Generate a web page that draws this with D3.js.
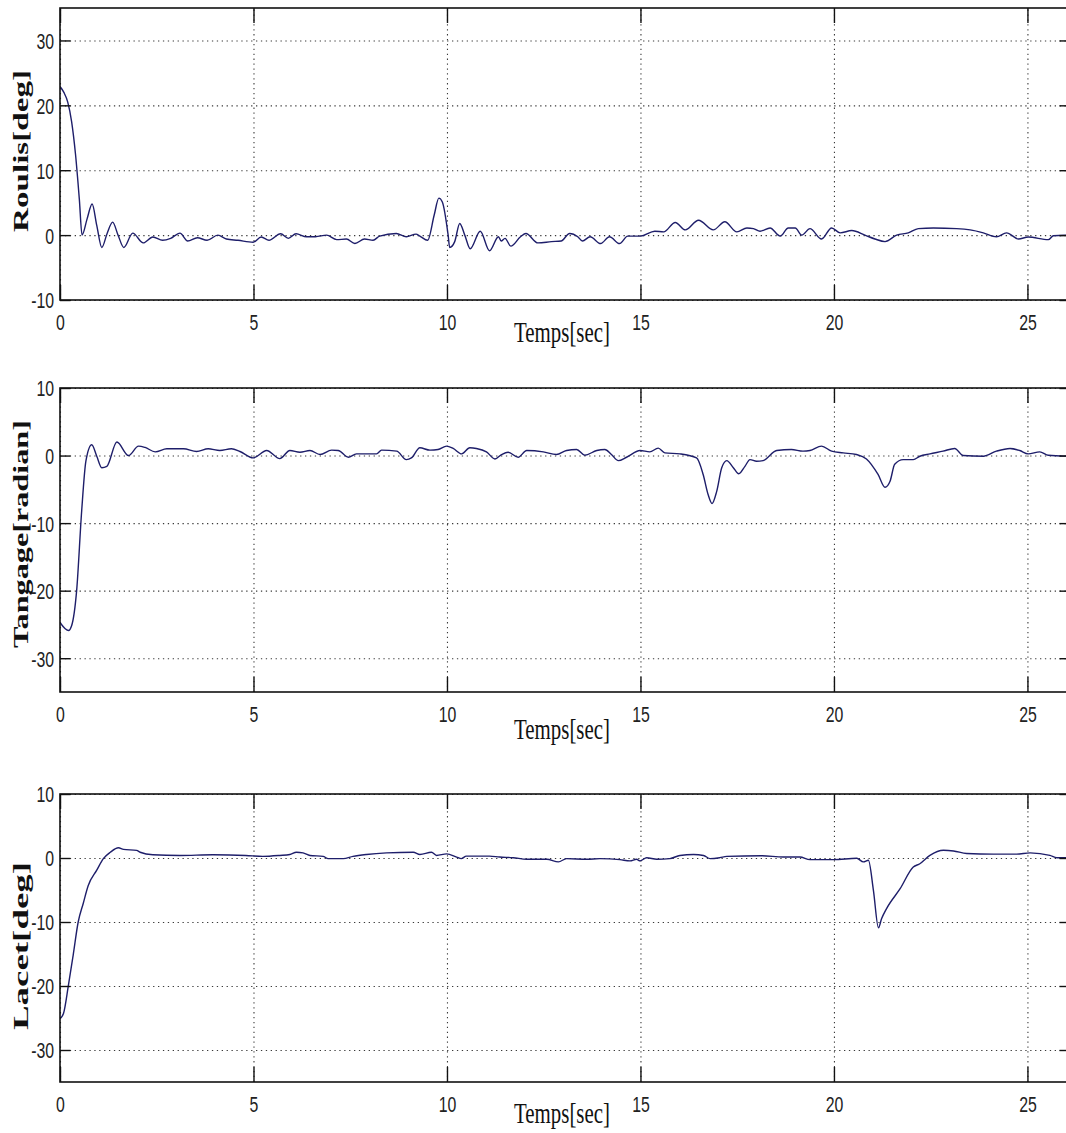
<!DOCTYPE html>
<html>
<head>
<meta charset="utf-8">
<script src="https://cdn.jsdelivr.net/npm/d3@7/dist/d3.min.js"></script>
<style>
  html, body { margin: 0; padding: 0; background: #fff; }
  svg { display: block; }
</style>
</head>
<body>
<svg id="fig" width="1066" height="1133"></svg>
<script>
// ---- Time axis ----
const xTicks = [0, 5, 10, 15, 20, 25];
const xMax = 26.1;

// ---- Roulis (roll) response, degrees ----
const rollTime = [0, 0.1, 0.2, 0.3, 0.4, 0.5, 0.57, 0.7, 0.83, 0.95, 1.08, 1.22, 1.36, 1.5, 1.65, 1.88, 2.15, 2.4, 2.65, 2.86,
  3.1, 3.3, 3.55, 3.8, 4.08, 4.3, 4.6, 4.99, 5.2, 5.4, 5.7, 5.9, 6.1, 6.37, 6.6, 6.89, 7.15, 7.4, 7.62, 7.87,
  8.09, 8.26, 8.69, 8.95, 9.2, 9.3, 9.5, 9.67, 9.79, 9.88, 10.03, 10.07, 10.2, 10.33, 10.46, 10.6, 10.86, 11.1, 11.33, 11.4,
  11.5, 11.65, 11.9, 12.04, 12.35, 12.7, 12.95, 13.17, 13.38, 13.5, 13.7, 13.97, 14.2, 14.46, 14.67, 15.0, 15.37, 15.6, 15.9, 16.16,
  16.5, 16.88, 17.18, 17.49, 17.75, 17.92, 18.09, 18.35, 18.61, 18.82, 19.0, 19.17, 19.38, 19.68, 19.94, 20.16, 20.46, 20.8, 21.06, 21.32,
  21.62, 21.92, 22.18, 22.57, 23.17, 23.52, 23.86, 24.2, 24.46, 24.77, 25.02, 25.54, 25.67, 26.1];
const rollValue = [22.9, 22.0, 20.5, 17.5, 12.5, 5.5, 0.0, 2.5, 4.8, 1.5, -1.9, 0.3, 2.0, 0.0, -1.9, 0.3, -1.2, -0.3, -0.8, -0.5,
  0.3, -0.9, -0.4, -0.8, 0.0, -0.6, -0.8, -1.1, -0.3, -0.8, 0.2, -0.5, 0.2, -0.25, -0.25, 0.0, -0.7, -0.6, -1.3, -0.6,
  -0.8, -0.15, 0.25, -0.25, 0.15, -0.15, -0.8, 3.1, 5.7, 5.1, 0.0, -1.9, -1.0, 1.8, 0.0, -2.1, 0.6, -2.4, -0.25, -0.9,
  -0.5, -1.7, -0.25, 0.25, -1.2, -1.0, -0.9, 0.25, -0.25, -0.9, -0.25, -1.3, -0.25, -1.3, -0.15, -0.15, 0.6, 0.5, 1.95, 0.8,
  2.3, 0.8, 2.05, 0.5, 1.1, 1.0, 0.6, 1.1, -0.15, 1.1, 1.1, 0.0, 1.0, -0.6, 1.1, 0.35, 0.7, 0.0, -0.6, -1.0,
  0.0, 0.35, 1.0, 1.1, 1.0, 0.8, 0.35, -0.25, 0.35, -0.6, -0.3, -0.7, -0.1, 0.0];
const rollTicks = [-10, 0, 10, 20, 30];

// ---- Tangage (pitch) response ----
const pitchTime = [0, 0.22, 0.3, 0.43, 0.56, 0.67, 0.82, 0.95, 1.08, 1.21, 1.47, 1.77, 2.03, 2.2, 2.46, 2.76, 3.19, 3.53, 3.83, 4.13,
  4.43, 4.65, 4.99, 5.34, 5.68, 5.94, 6.2, 6.46, 6.72, 7.02, 7.19, 7.45, 7.66, 8.18, 8.31, 8.7, 8.95, 9.08, 9.3, 9.56,
  9.77, 9.99, 10.16, 10.38, 10.59, 10.76, 11.02, 11.24, 11.41, 11.58, 11.84, 12.06, 12.49, 12.83, 13.09, 13.35, 13.56, 13.87, 14.08, 14.25,
  14.43, 14.64, 14.99, 15.24, 15.46, 15.63, 16.02, 16.45, 16.62, 16.75, 16.85, 16.97, 17.1, 17.23, 17.4, 17.54, 17.7, 17.83, 18.0, 18.17,
  18.52, 18.9, 19.2, 19.38, 19.68, 19.94, 20.24, 20.58, 20.84, 21.14, 21.32, 21.45, 21.57, 21.79, 22.05, 22.22, 22.48, 22.82, 23.12, 23.34,
  23.86, 24.2, 24.55, 24.8, 25.02, 25.32, 25.54, 26.1];
const pitchValue = [-24.7, -25.9, -25.2, -20.0, -8.2, -0.8, 1.6, -0.1, -1.8, -1.6, 2.0, 0.0, 1.4, 1.2, 0.55, 1.0, 1.0, 0.6, 1.0, 0.75,
  1.0, 0.6, -0.35, 0.75, -0.45, 0.75, 0.5, 0.75, 0.15, 0.8, 0.75, -0.25, 0.25, 0.25, 0.8, 0.65, -0.6, -0.35, 1.15, 0.8,
  0.9, 1.4, 1.05, 0.25, 1.15, 1.05, 0.55, -0.5, 0.15, 0.5, -0.25, 0.75, 0.55, 0.15, 0.75, 0.9, 0.05, 0.75, 0.9, 0.15,
  -0.75, -0.25, 0.75, 0.55, 1.1, 0.4, 0.25, -0.35, -2.8, -5.8, -7.1, -5.3, -1.8, -0.75, -1.8, -2.7, -1.6, -0.6, -0.85, -0.75,
  0.75, 0.9, 0.65, 0.75, 1.4, 0.65, 0.4, 0.15, -0.5, -2.8, -4.7, -3.8, -1.3, -0.6, -0.6, -0.1, 0.25, 0.65, 1.05, 0.0,
  -0.1, 0.65, 1.05, 0.75, 0.25, 0.55, 0.05, -0.1];
const pitchTicks = [-30, -20, -10, 0, 10];

// ---- Lacet (yaw) response, degrees ----
const yawTime = [0, 0.09, 0.22, 0.34, 0.47, 0.6, 0.73, 0.95, 1.12, 1.3, 1.51, 1.64, 1.98, 2.07, 2.4, 3.1, 3.95, 4.8, 5.24, 5.68,
  5.94, 6.11, 6.28, 6.46, 6.8, 6.93, 7.32, 7.57, 7.92, 8.44, 9.13, 9.3, 9.6, 9.73, 9.99, 10.25, 10.37, 10.5, 11.1, 11.36,
  11.71, 12.06, 12.58, 12.88, 13.09, 13.61, 13.95, 14.47, 14.73, 14.9, 14.99, 15.16, 15.42, 15.76, 16.02, 16.37, 16.63, 16.8, 17.05, 17.23,
  18.13, 18.69, 19.12, 19.38, 19.99, 20.59, 20.76, 20.89, 21.02, 21.15, 21.23, 21.36, 21.71, 22.05, 22.22, 22.48, 22.83, 23.09, 23.43, 24.12,
  24.72, 25.07, 25.58, 25.76, 26.1];
const yawValue = [-25.1, -24.3, -19.8, -15.2, -10.0, -7.1, -4.3, -1.9, -0.1, 0.9, 1.6, 1.35, 1.2, 0.9, 0.5, 0.4, 0.5, 0.4, 0.25, 0.4,
  0.55, 0.9, 0.8, 0.4, 0.25, -0.1, -0.1, 0.25, 0.55, 0.8, 0.9, 0.55, 0.9, 0.4, 0.65, 0.15, -0.1, 0.3, 0.3, 0.15,
  0.05, -0.2, -0.2, -0.6, -0.1, -0.2, -0.1, -0.25, -0.45, -0.2, -0.45, 0.05, -0.2, -0.1, 0.4, 0.55, 0.4, -0.1, 0.05, 0.25,
  0.35, 0.15, 0.15, -0.25, -0.25, -0.05, -0.6, -0.35, -5.05, -10.9, -9.5, -7.9, -4.8, -1.4, -0.9, 0.4, 1.2, 1.1, 0.7, 0.6,
  0.6, 0.8, 0.4, 0.05, 0.05];
const yawTicks = [-30, -20, -10, 0, 10];

// ---- Figure layout ----
const svg = d3.select("#fig");
svg.append("rect").attr("width", 1066).attr("height", 1133).attr("fill", "#fff");

const SQ = 0.72;            // horizontal squeeze of the glyphs
const TICK_FONT = "'Liberation Sans', Arial, sans-serif";
const LABEL_FONT = "'Liberation Serif', 'Times New Roman', serif";
const LINE_COLOR = "#1e1e6a";

const x = d3.scaleLinear().domain([0, xMax]).range([60, 1070]);

const panels = [
  { id: "roll",  label: "Roulis[deg]",     time: rollTime,  value: rollValue,  domain: [-10, 35], ticks: rollTicks,
    top: 8,   bottom: 300,  labelMid: 151, labelLen: 162, xlabelBase: 342 },
  { id: "pitch", label: "Tangage[radian]", time: pitchTime, value: pitchValue, domain: [-35, 10], ticks: pitchTicks,
    top: 388, bottom: 692,  labelMid: 534, labelLen: 228, xlabelBase: 739 },
  { id: "yaw",   label: "Lacet[deg]",      time: yawTime,   value: yawValue,   domain: [-35, 10], ticks: yawTicks,
    top: 794, bottom: 1082, labelMid: 946, labelLen: 168, xlabelBase: 1123 }
];

panels.forEach(p => {
  const y = d3.scaleLinear().domain(p.domain).range([p.bottom, p.top]);
  const g = svg.append("g").attr("class", "panel-" + p.id);
  const x0 = x.range()[0], x1 = x.range()[1];
  const h = p.bottom - p.top, w = x1 - x0;

  // dotted grid
  const gridX = g.append("g").attr("transform", `translate(0,${p.bottom})`)
    .call(d3.axisBottom(x).tickValues(xTicks).tickSize(-h).tickFormat(""));
  const gridY = g.append("g").attr("transform", `translate(${x0},0)`)
    .call(d3.axisLeft(y).tickValues(p.ticks).tickSize(-w).tickFormat(""));
  [gridX, gridY].forEach(gg => {
    gg.select(".domain").remove();
    gg.selectAll("line").attr("stroke", "#3a3a3a").attr("stroke-width", 1.1)
      .attr("stroke-dasharray", "1.3,3.6");
  });

  // data curve
  const clipId = "clip-" + p.id;
  g.append("clipPath").attr("id", clipId).append("rect")
    .attr("x", x0).attr("y", p.top).attr("width", w).attr("height", h);
  const pts = p.time.map((t, i) => [t, p.value[i]]);
  g.append("path").datum(pts)
    .attr("clip-path", `url(#${clipId})`)
    .attr("fill", "none").attr("stroke", LINE_COLOR).attr("stroke-width", 1.4)
    .attr("stroke-linejoin", "round")
    .attr("d", d3.line().curve(d3.curveMonotoneX).x(d => x(d[0])).y(d => y(d[1])));

  // inward tick marks on all four sides
  const tickStyle = sel => {
    sel.select(".domain").remove();
    sel.selectAll("line").attr("stroke", "#111").attr("stroke-width", 1.4);
  };
  const axB = g.append("g").attr("transform", `translate(0,${p.bottom})`)
    .call(d3.axisBottom(x).tickValues(xTicks).tickSizeInner(-15).tickSizeOuter(0).tickFormat(d => String(d)));
  tickStyle(axB);
  axB.selectAll("text")
    .attr("y", 30).attr("dy", null)
    .attr("transform", `scale(${SQ},1)`)
    .attr("font-family", TICK_FONT).attr("font-size", 22).attr("fill", "#222");

  const axT = g.append("g").attr("transform", `translate(0,${p.top})`)
    .call(d3.axisTop(x).tickValues(xTicks).tickSizeInner(-15).tickSizeOuter(0).tickFormat(""));
  tickStyle(axT);

  const axL = g.append("g").attr("transform", `translate(${x0},0)`)
    .call(d3.axisLeft(y).tickValues(p.ticks).tickSizeInner(-10.5).tickSizeOuter(0).tickFormat(d => String(d)));
  tickStyle(axL);
  axL.selectAll("text")
    .attr("x", -6 / SQ).attr("dy", "0.36em")
    .attr("transform", `scale(${SQ},1)`)
    .attr("font-family", TICK_FONT).attr("font-size", 22).attr("fill", "#222");

  const axR = g.append("g").attr("transform", `translate(${x1},0)`)
    .call(d3.axisRight(y).tickValues(p.ticks).tickSizeInner(-10.5).tickSizeOuter(0).tickFormat(""));
  tickStyle(axR);

  // axes box
  g.append("rect").attr("x", x0).attr("y", p.top).attr("width", w).attr("height", h)
    .attr("fill", "none").attr("stroke", "#111").attr("stroke-width", 1.6);

  // axis titles
  g.append("text")
    .attr("transform", `translate(562,${p.xlabelBase}) scale(${SQ},1)`)
    .attr("text-anchor", "middle")
    .attr("font-family", LABEL_FONT).attr("font-size", 29).attr("fill", "#111")
    .text("Temps[sec]");

  g.append("text")
    .attr("transform", `translate(28,${p.labelMid}) scale(${SQ},1) rotate(-90)`)
    .attr("text-anchor", "middle")
    .attr("font-family", LABEL_FONT).attr("font-weight", "bold").attr("font-size", 28).attr("fill", "#111")
    .attr("textLength", p.labelLen).attr("lengthAdjust", "spacingAndGlyphs")
    .text(p.label);
});
</script>
</body>
</html>
